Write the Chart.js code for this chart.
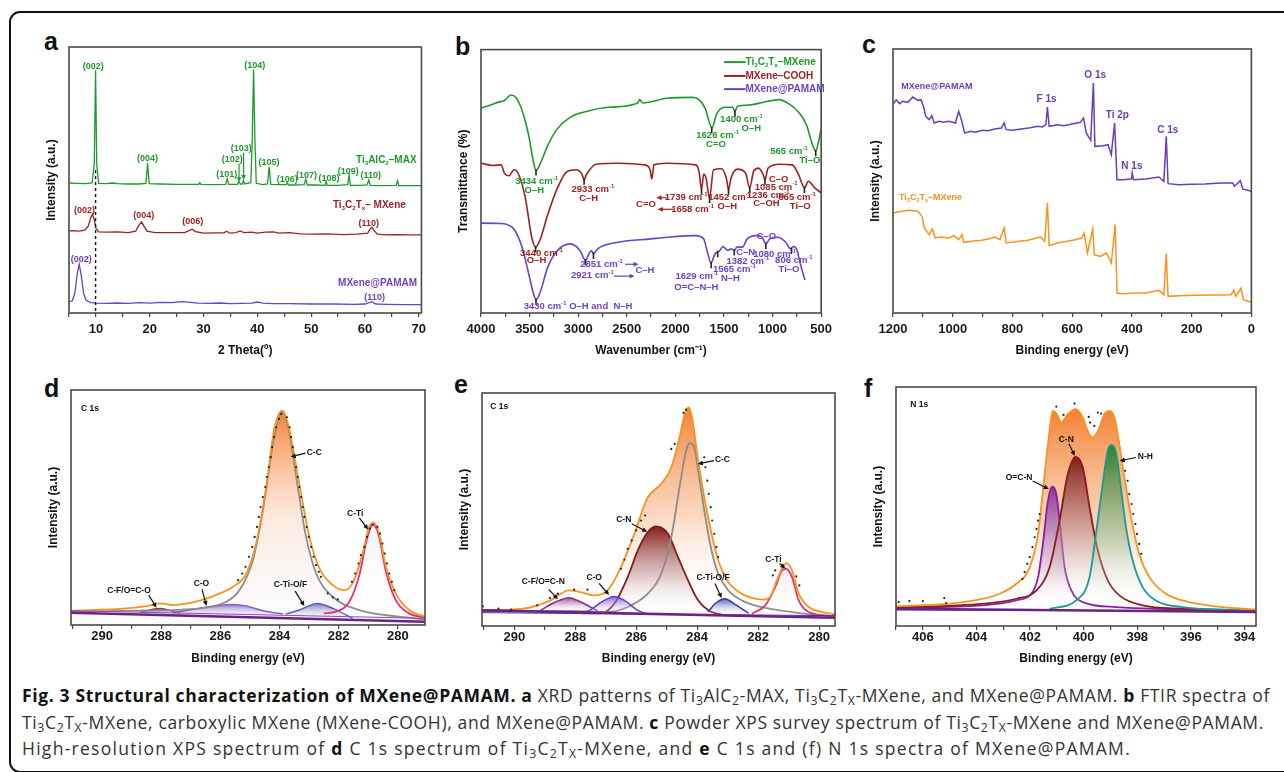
<!DOCTYPE html>
<html>
<head>
<meta charset="utf-8">
<script src="https://cdn.jsdelivr.net/npm/chart.js@4.4.1/dist/chart.umd.min.js"></script>
<style>
body{margin:0;width:1284px;height:772px;background:#fff;position:relative;overflow:hidden;font-family:"Liberation Sans",Arial,sans-serif}
.frame{position:absolute;left:9px;top:11px;width:1320px;height:762px;border:2.5px solid #111;border-radius:11px;box-sizing:border-box}
canvas{position:absolute}
.tag{position:absolute;font:bold 25px/25px "Liberation Sans",Arial,sans-serif;color:#111}
.cap{position:absolute;left:22px;top:682px;font-family:"Open Sans",sans-serif;font-size:17.5px;line-height:26.5px;color:#333;white-space:nowrap}
.cap div{width:max-content}
.cap b{color:#111}
.cap sub{font-size:70%;vertical-align:-3px;line-height:0}
</style>
</head>
<body>
<div class="frame"></div>
<div class="tag" style="left:44px;top:29px">a</div>
<div class="tag" style="left:455px;top:34px">b</div>
<div class="tag" style="left:862px;top:32px">c</div>
<div class="tag" style="left:44px;top:376px">d</div>
<div class="tag" style="left:454px;top:372px">e</div>
<div class="tag" style="left:864px;top:376px">f</div>
<div class="cap">
<div><b>Fig. 3 Structural characterization of MXene@PAMAM.</b> <b>a</b> XRD patterns of Ti<sub>3</sub>AlC<sub>2</sub>-MAX, Ti<sub>3</sub>C<sub>2</sub>T<sub>X</sub>-MXene, and MXene@PAMAM. <b>b</b> FTIR spectra of</div>
<div>Ti<sub>3</sub>C<sub>2</sub>T<sub>X</sub>-MXene, carboxylic MXene (MXene-COOH), and MXene@PAMAM. <b>c</b> Powder XPS survey spectrum of Ti<sub>3</sub>C<sub>2</sub>T<sub>X</sub>-MXene and MXene@PAMAM.</div>
<div>High-resolution XPS spectrum of <b>d</b> C 1s spectrum of Ti<sub>3</sub>C<sub>2</sub>T<sub>X</sub>-MXene, and <b>e</b> C 1s and (f) N 1s spectra of MXene@PAMAM.</div>
</div>
<script>
// ---- a: XRD (2 theta, intensity a.u.) ----
const xrdMax = [[5,391],[6.5,390],[8,389],[9.3,391],[9.7,450],[9.94,730],[10.15,450],[10.5,390],[12,389],[13,391],[14,389],[16,388],[18,388],[19.3,390],[19.6,450],[19.9,389],[22,388],[25,387],[29.1,387],[29.3,392],[29.5,387],[32,386],[34.1,387],[34.4,403],[34.7,387],[36.3,387],[36.6,395],[36.9,387],[37.2,388],[37.4,398],[37.6,388],[38.8,392],[39.05,520],[39.3,732],[39.55,520],[39.8,390],[41,386],[41.9,388],[42.2,440],[42.5,387],[44,386],[45.4,386],[45.6,392],[45.8,385],[47,385],[48.7,386],[49.0,402],[49.3,385],[51,385],[52.6,384],[52.8,395],[53.0,384],[55,384],[56.8,386],[57.05,415],[57.3,384],[59,384],[60.4,385],[60.7,400],[61.0,384],[63,383],[65.8,384],[66.05,398],[66.3,383],[68,383],[70.5,383]];
const xrdMx = [[5,247],[6,248],[7,246],[8,250],[8.6,262],[9.0,285],[9.35,297],[9.7,280],[10.0,255],[10.5,244],[12,243],[14,244],[16,242],[17.4,246],[17.9,262],[18.5,274],[18.9,262],[19.5,246],[21,242],[24,242],[26.5,242],[27.3,248],[27.9,252],[28.5,245],[30,240],[32,241],[33.8,241],[34.3,246],[34.9,240],[36,242],[36.8,247],[37.5,242],[39,243],[40,240],[41.5,243],[43,244],[44,240],[46,242],[48,238],[50,237],[53,238],[56,236],[58.5,237],[60.5,240],[61.0,253],[61.3,258],[61.7,248],[62.3,237],[64,235],[66,236],[68,235],[70.5,235]];
const xrdPam = [[5,34],[5.6,36],[6.1,60],[6.5,115],[6.9,147],[7.3,110],[7.7,60],[8.2,38],[9,31],[10,30],[12,29],[14,30],[16,29],[18,31],[20,30],[22,32],[24,31],[26,34],[27,33],[29,30],[31,29],[33,30],[35,28],[37,29],[39,30],[40,33],[41,30],[43,28],[46,28],[50,27],[54,27],[58,26],[60,27],[61.3,34],[62,27],[64,26],[67,25],[70.5,25]];
const xrdGuide = [[9.94,430],[9.94,0]];

// ---- b: FTIR (wavenumber, transmittance a.u.) ----
const ftirMx = [[4000,622],[3874,635],[3800,642],[3760,645],[3742,650],[3692,662],[3643,655],[3577,615],[3510,540],[3461,460],[3434,433],[3395,450],[3312,510],[3213,560],[3080,595],[2915,612],[2683,625],[2386,638],[2369,648],[2336,638],[2088,652],[1823,655],[1757,648],[1691,620],[1625,562],[1575,605],[1493,625],[1410,625],[1387,612],[1360,628],[1228,632],[1096,640],[930,648],[831,635],[732,610],[649,570],[599,520],[556,492],[527,520],[500,560]];
const ftirCooh = [[4000,455],[3874,448],[3793,450],[3760,425],[3710,417],[3661,435],[3611,420],[3544,350],[3478,230],[3438,200],[3395,220],[3312,300],[3213,380],[3114,430],[3015,435],[2959,420],[2939,405],[2916,420],[2816,452],[2585,455],[2320,450],[2260,435],[2243,407],[2220,450],[2088,455],[1791,450],[1757,430],[1731,375],[1708,422],[1685,410],[1648,350],[1608,435],[1526,438],[1476,410],[1453,375],[1427,410],[1360,437],[1278,425],[1235,380],[1195,430],[1145,440],[1096,420],[1079,405],[1046,440],[930,452],[798,450],[732,420],[672,380],[632,400],[566,380],[500,365]];
const ftirPam = [[4000,273],[3810,272],[3677,260],[3577,200],[3510,120],[3461,60],[3434,40],[3395,60],[3312,140],[3213,190],[3080,210],[2982,190],[2926,160],[2889,180],[2863,190],[2843,180],[2800,195],[2585,215],[2254,225],[2088,230],[1791,235],[1708,225],[1675,190],[1632,152],[1592,180],[1565,185],[1542,190],[1510,202],[1460,190],[1427,195],[1394,190],[1367,200],[1311,200],[1261,225],[1179,235],[1112,232],[1069,210],[1030,225],[947,230],[864,215],[815,195],[781,202],[748,190],[715,150],[666,100]];
const ftirMarks = [[3434,427],[1626,556],[1387,606],[556,486],[3438,194],[2939,399],[1731,369],[1648,344],[1453,369],[1235,374],[1079,399],[672,374],[3434,34],[2926,154],[2843,174],[1632,146],[1565,179],[1394,184],[1069,204],[806,189]];

// ---- c: XPS survey (binding energy, intensity a.u.) ----
const xpsPam = [[1200,625],[1189,640],[1178,628],[1167,635],[1150,632],[1134,648],[1117,638],[1106,640],[1098,620],[1090,590],[1079,580],[1070,592],[1062,570],[1046,575],[1030,572],[1013,575],[991,570],[980,605],[971,580],[960,540],[940,545],[925,542],[900,548],[881,547],[860,552],[837,555],[828,570],[821,550],[800,548],[771,552],[740,556],[716,560],[700,558],[688,565],[683,618],[677,560],[650,565],[628,562],[600,567],[573,572],[562,585],[553,540],[538,518],[529,690],[524,500],[496,502],[480,505],[469,475],[458,570],[450,400],[430,400],[402,402],[399,420],[395,400],[353,402],[310,408],[293,395],[285,530],[279,388],[244,385],[200,386],[156,387],[101,390],[62,390],[57,380],[37,397],[29,372],[0,365]];
const xpsMx = [[1200,300],[1170,305],[1145,308],[1117,305],[1103,290],[1095,255],[1079,235],[1068,252],[1059,225],[1040,228],[1013,225],[996,232],[980,220],[969,235],[963,212],[930,216],[903,218],[880,222],[859,228],[842,220],[828,255],[821,210],[790,214],[749,218],[707,228],[692,215],[683,330],[677,202],[650,210],[617,215],[590,220],[568,225],[560,240],[549,180],[531,252],[526,175],[507,170],[485,180],[469,150],[461,220],[456,265],[450,60],[430,58],[390,60],[353,60],[310,68],[293,55],[285,178],[279,50],[240,52],[189,53],[120,54],[68,55],[59,68],[52,50],[35,75],[27,40],[0,32]];

// ---- d: C 1s of Ti3C2Tx-MXene ----
const dBase = [[291.05,37],[279.08,10]];
const dBase2 = [[291.05,43],[279.08,20]];
const dCC = [[291.05,40],[288.9,43],[286.7,50],[285.8,70],[285.35,105],[284.9,195],[284.56,345],[284.22,545],[284.05,615],[283.91,643],[283.78,620],[283.66,575],[283.38,415],[283.1,265],[282.76,155],[282.2,85],[281.3,45],[279.96,25],[279.08,17]];
const dEnv = [[291.05,43],[289.17,50],[288.49,57],[288.04,65],[287.6,60],[286.7,73],[286.02,95],[285.57,115],[285.12,155],[284.79,245],[284.45,415],[284.17,595],[284.02,635],[283.91,645],[283.78,625],[283.66,585],[283.33,425],[282.99,265],[282.65,170],[282.2,120],[281.81,105],[281.53,125],[281.19,215],[280.97,295],[280.82,308],[280.63,275],[280.4,175],[280.07,95],[279.62,45],[279.08,25]];
const dCTi = [[282.5,35],[282.09,40],[281.64,70],[281.3,150],[281.08,245],[280.93,292],[280.85,303],[280.72,290],[280.63,265],[280.4,160],[280.07,75],[279.62,35],[279.08,22]];
const dCO = [[287.6,37],[286.7,50],[286.13,58],[285.57,62],[285.12,57],[284.56,43],[283.89,33]];
const dCF = [[288.72,38],[288.04,50],[287.37,35]];
const dCTiO = [[283.78,33],[283.33,45],[282.71,65],[282.2,50],[281.53,20]];
const dDots = [[285.4,135],[285.26,155],[285.15,175],[285.03,205],[284.92,235],[284.84,265],[284.76,295],[284.7,325],[284.64,355],[284.56,385],[284.48,415],[284.43,445],[284.36,475],[284.3,505],[284.25,535],[284.18,565],[284.11,595],[284.02,620],[283.94,635],[283.75,625],[283.66,595],[283.61,565],[283.55,535],[283.49,505],[283.44,475],[283.38,445],[283.33,415],[283.27,385],[283.21,355],[283.16,325],[283.08,295],[283.01,265],[282.93,235],[282.85,205],[282.76,180],[282.67,160],[282.6,145],[282.37,95],[282.2,83],[282.03,77],[281.55,130],[281.44,155],[281.33,185],[281.25,210],[281.13,235],[281.04,265],[280.94,290],[280.85,302],[280.69,295],[280.6,275],[280.52,245],[280.44,215],[280.37,185],[280.29,155],[280.2,130],[280.12,105]];

// ---- e: C 1s of MXene@PAMAM ----
const eBase = [[291.06,47],[279.48,25]];
const eBase2 = [[291.06,40],[279.48,31]];
const eEnv = [[291.06,47],[289.7,52],[288.81,77],[288.21,107],[287.82,102],[287.38,92],[286.94,107],[286.5,177],[286.06,277],[285.62,387],[285.18,427],[284.85,477],[284.58,567],[284.41,637],[284.28,657],[284.17,627],[283.97,497],[283.75,377],[283.53,277],[283.31,197],[282.98,132],[282.54,97],[282.1,82],[281.83,79],[281.61,87],[281.39,137],[281.22,172],[281.06,189],[280.89,167],[280.67,97],[280.34,57],[279.9,42],[279.48,35]];
const eCC = [[291.06,45],[288,45],[286.94,42],[286.28,57],[285.62,97],[285.18,157],[284.85,267],[284.58,417],[284.36,527],[284.25,549],[284.1,537],[283.97,467],[283.75,337],[283.53,227],[283.31,157],[282.98,107],[282.54,77],[281.99,59],[280.89,42],[279.48,29]];
const eCN = [[287.8,38],[287.16,39],[286.72,67],[286.28,147],[285.95,227],[285.62,282],[285.35,299],[284.96,277],[284.63,207],[284.3,137],[283.97,77],[283.64,47],[283.09,32]];
const eCO = [[287.7,40],[287.49,49],[287.05,77],[286.72,89],[286.39,77],[285.95,47],[285.62,35]];
const eCF = [[289.14,47],[288.65,72],[288.21,85],[287.82,72],[287.27,45]];
const eCTiO = [[283.64,42],[283.42,67],[283.09,82],[282.76,65],[282.32,39]];
const eCTi = [[282.21,37],[281.77,62],[281.44,117],[281.22,167],[281.09,172],[280.89,147],[280.67,77],[280.34,42],[279.48,29]];
const eDots = [[291.03,59],[290.52,52],[290.1,49],[289.25,62],[288.83,84],[288.57,97],[288.04,109],[287.6,109],[286.5,172],[286.39,199],[286.28,232],[286.15,257],[286.0,287],[285.84,317],[285.71,332],[284.85,532],[284.74,547],[284.45,640],[284.36,650],[283.77,507],[283.73,477],[283.67,437],[283.62,397],[283.56,357],[283.51,317],[283.44,277],[283.37,237],[283.31,207],[281.52,152],[281.44,167],[280.75,149],[280.65,122]];

// ---- f: N 1s of MXene@PAMAM ----
const fBase = [[407,52],[393.57,42]];
const fBase2 = [[407,48],[393.57,45]];
const fEnv = [[407,59],[404.98,67],[403.75,82],[403.13,97],[402.51,127],[402.01,177],[401.7,277],[401.52,407],[401.33,547],[401.15,647],[400.96,632],[400.84,612],[400.59,637],[400.3,652],[400.03,627],[399.85,587],[399.66,567],[399.41,597],[399.23,637],[399.04,647],[398.85,627],[398.67,547],[398.48,447],[398.23,327],[397.93,217],[397.55,147],[396.93,97],[396.32,77],[395.08,59],[393.57,49]];
const fOCN = [[407,55],[403.75,62],[402.51,77],[401.95,97],[401.7,147],[401.52,247],[401.33,377],[401.18,419],[401.02,397],[400.87,297],[400.71,177],[400.46,107],[400.03,72],[398.79,57],[393.57,47]];
const fCN = [[407,55],[403.75,67],[402.51,82],[401.76,107],[401.27,177],[400.9,317],[400.59,457],[400.3,509],[400.03,477],[399.78,357],[399.47,227],[399.1,137],[398.67,92],[397.8,62],[396.32,52],[393.57,45]];
const fNH = [[401.27,52],[400.28,77],[399.78,147],[399.54,277],[399.29,427],[399.1,527],[398.98,544],[398.79,522],[398.61,417],[398.42,297],[398.17,197],[397.8,117],[397.31,77],[396.32,57],[393.57,47]];
const fDots = [[406.9,72],[406.5,75],[406,75],[405.2,84],[405.13,69],[402.28,142],[402.2,162],[402.1,187],[402.01,207],[401.91,237],[401.83,267],[401.76,292],[401.7,317],[401.64,337],[401.02,660],[400.75,635],[400.34,669],[399.81,629],[399.76,612],[399.6,602],[399.47,642],[399.35,639],[398.54,497],[398.45,467],[398.36,437],[398.3,397],[398.21,367],[398.15,337],[398.07,307],[398.01,277],[397.93,247],[397.85,217]];

const G = '#1d9a2c', R = '#9c2222', P = '#6b42c8';
const ORANGE = '#f7931e', GRAY = '#8c8c8c', PINK = '#e62f7e', BLUE = '#3838a8', VIO = '#6a3cc0', MAG = '#8e2a8a', DRED = '#8b1a1a', TEAL = '#1a9a94', BASE = '#6b2283';
const FAM = '"Liberation Sans", Arial, sans-serif';
Chart.defaults.font.family = FAM;

// caption lines are stretched to the widths they have in the figure
const capWidths = [1248, 1242, 1109];
document.querySelectorAll('.cap > div').forEach((d, i) => {
    const w = d.getBoundingClientRect().width;
    const n = d.textContent.replace(/\s+/g, ' ').trim().length;
    d.style.letterSpacing = ((capWidths[i] - w) / n).toFixed(3) + 'px';
});

const NOTES = {};

function pts(a) { return a.map(p => ({x: p[0], y: p[1]})); }
function curve(a, color, width, more) {
    return Object.assign({data: pts(a), showLine: true, borderColor: color, borderWidth: width, pointRadius: 0, fill: false, tension: 0}, more || {});
}
function smooth(a, color, width, more) {
    return curve(a, color, width, Object.assign({cubicInterpolationMode: 'monotone'}, more || {}));
}
function dots(a) {
    return {data: pts(a), showLine: false, pointRadius: 1.1, pointBackgroundColor: '#222', pointBorderWidth: 0};
}
// vertical gradient between data levels
function fade(stops) {
    return function (context) {
        const chart = context.chart;
        if (!chart.chartArea) return 'rgba(0,0,0,0)';
        const y = chart.scales.y;
        const g = chart.ctx.createLinearGradient(0, y.getPixelForValue(stops[0][0]), 0, y.getPixelForValue(stops[stops.length - 1][0]));
        const span = stops[stops.length - 1][0] - stops[0][0];
        stops.forEach(s => g.addColorStop((s[0] - stops[0][0]) / span, s[1]));
        return g;
    };
}

function richText(c, s, x, y, font, color, align) {
    const m = /^(bold )?([\d.]+)px/.exec(font);
    const bold = m[1] || '', fs = parseFloat(m[2]);
    const segs = [];
    for (let i = 0; i < s.length; i++) {
        const ch = s[i];
        if ((ch === '_' || ch === '^') && i + 1 < s.length) { segs.push({t: s[i + 1], k: ch}); i++; }
        else if (segs.length && segs[segs.length - 1].k === 'n') segs[segs.length - 1].t += ch;
        else segs.push({t: ch, k: 'n'});
    }
    let w = 0;
    segs.forEach(sg => {
        sg.f = bold + (sg.k === 'n' ? fs : fs * 0.62) + 'px ' + FAM;
        c.font = sg.f;
        sg.w = c.measureText(sg.t).width;
        w += sg.w;
    });
    let cx = align === 'left' ? x : align === 'right' ? x - w : x - w / 2;
    c.fillStyle = color; c.textBaseline = 'middle'; c.textAlign = 'left';
    segs.forEach(sg => {
        const dy = sg.k === '_' ? fs * 0.3 : sg.k === '^' ? -fs * 0.32 : 0;
        c.font = sg.f;
        c.fillText(sg.t, cx, y + dy);
        cx += sg.w;
    });
}

function arrow(c, x1, y1, x2, y2, color) {
    const ang = Math.atan2(y2 - y1, x2 - x1), L = 5, W = 2.4;
    c.strokeStyle = color; c.fillStyle = color; c.lineWidth = 1.2;
    c.beginPath(); c.moveTo(x1, y1); c.lineTo(x2 - L * 0.8 * Math.cos(ang), y2 - L * 0.8 * Math.sin(ang)); c.stroke();
    c.beginPath();
    c.moveTo(x2, y2);
    c.lineTo(x2 - L * Math.cos(ang) + W * Math.sin(ang), y2 - L * Math.sin(ang) - W * Math.cos(ang));
    c.lineTo(x2 - L * Math.cos(ang) - W * Math.sin(ang), y2 - L * Math.sin(ang) + W * Math.cos(ang));
    c.closePath(); c.fill();
}

Chart.register({
    id: 'notes',
    afterDatasetsDraw(chart) {
        const items = NOTES[chart.canvas.id] || [];
        const c = chart.ctx, xs = chart.scales.x, ys = chart.scales.y;
        const X = v => xs.getPixelForValue(v), Y = v => ys.getPixelForValue(v);
        c.save();
        items.forEach(n => {
            if (n[0] === 't') richText(c, n[3], X(n[1]), Y(n[2]), n[5] || 'bold 9px', n[4], n[6] || 'center');
            else if (n[0] === 'a') arrow(c, X(n[1]), Y(n[2]), X(n[3]), Y(n[4]), n[5] || '#111');
            else if (n[0] === 'l') {
                c.strokeStyle = n[5]; c.lineWidth = n[6] || 1.6;
                c.beginPath(); c.moveTo(X(n[1]), Y(n[2])); c.lineTo(X(n[3]), Y(n[4])); c.stroke();
            }
        });
        c.restore();
    },
    afterDraw(chart) {
        const a = chart.chartArea, c = chart.ctx;
        c.save();
        c.strokeStyle = '#4a4a4a'; c.lineWidth = 1.6;
        c.strokeRect(a.left, a.top, a.right - a.left, a.bottom - a.top);
        c.restore();
    }
});

function panel(id, rect, xH, xs, yMax, yTitle, xTitle, datasets, notes) {
    const [l, t, r, b] = rect;
    const cv = document.createElement('canvas');
    cv.id = id;
    const left = l - 25, top = t - 3;
    cv.width = r + 3 - left; cv.height = b + xH - top;
    cv.style.left = left + 'px'; cv.style.top = top + 'px';
    document.body.appendChild(cv);
    NOTES[id] = notes;
    const major = xs.major;
    new Chart(cv, {
        type: 'scatter',
        data: {datasets: datasets},
        options: {
            responsive: false, animation: false, events: [],
            layout: {padding: {left: 0, top: 3, right: 3, bottom: 0}},
            plugins: {legend: {display: false}, tooltip: {enabled: false}},
            scales: {
                x: {
                    type: 'linear', position: 'bottom', min: xs.min, max: xs.max, reverse: !!xs.reverse,
                    afterFit(s) { s.height = xH; },
                    grid: {drawOnChartArea: false, drawTicks: true, tickLength: 4, color: '#444', lineWidth: 1.2},
                    border: {display: false},
                    ticks: {
                        stepSize: xs.step, includeBounds: false, autoSkip: false, maxRotation: 0, padding: xs.pad,
                        font: {size: 13, weight: 'bold'}, color: '#1a1a1a',
                        callback: v => Math.abs(v / major - Math.round(v / major)) < 1e-6 ? String(Math.round(v)) : ''
                    },
                    title: {display: true, text: xTitle, font: {size: 12, weight: 'bold'}, color: '#111', padding: 0}
                },
                y: {
                    min: 0, max: yMax,
                    afterFit(s) { s.width = 25; },
                    grid: {display: false}, border: {display: false}, ticks: {display: false},
                    title: {display: true, text: yTitle, font: {size: 12, weight: 'bold'}, color: '#111', padding: 0}
                }
            }
        }
    });
}

// ---- a ----
panel('pa', [69, 47, 428, 313], 45, {min: 5, max: 70.5, step: 5, major: 10, pad: 5}, 800, 'Intensity (a.u.)', '2 Theta(º)', [
    curve(xrdGuide, '#111', 1.4, {borderDash: [3, 3]}),
    curve(xrdMax, G, 1.3),
    curve(xrdMx, R, 1.3),
    curve(xrdPam, P, 1.3)
], [
    ['t', 9.5, 742, '(002)', G], ['t', 19.6, 465, '(004)', G], ['t', 34.3, 417, '(101)', G], ['t', 35.35, 462, '(102)', G],
    ['t', 37.0, 495, '(103)', G], ['t', 39.5, 745, '(104)', G], ['t', 42.15, 452, '(105)', G], ['t', 45.55, 400, '(106)', G],
    ['t', 49.15, 414, '(107)', G], ['t', 53.3, 405, '(108)', G], ['t', 56.9, 427, '(109)', G], ['t', 61.1, 414, '(110)', G],
    ['t', 69.6, 460, 'Ti_3AlC_2–MAX', G, 'bold 10px', 'right'],
    ['a', 36.6, 450, 36.6, 393, G], ['a', 37.45, 482, 37.45, 400, G],
    ['t', 7.87, 307, '(002)', R], ['t', 18.9, 292, '(004)', R], ['t', 28.0, 274, '(006)', R], ['t', 60.7, 270, '(110)', R],
    ['t', 67.6, 323, 'Ti_3C_2T_x– MXene', R, 'bold 10px', 'right'],
    ['t', 7.26, 160, '(002)', P], ['t', 69.7, 90, 'MXene@PAMAM', P, 'bold 10px', 'right'], ['t', 61.8, 48, '(110)', P]
]);

// ---- b ----
const ftirOpt = {tension: 0.3, cubicInterpolationMode: 'monotone'};
const F = 'bold 9.5px';
panel('pb', [481, 47, 834, 313], 45, {min: 500, max: 4000, step: 250, major: 500, pad: 5, reverse: true}, 800, 'Transmittance (%)', 'Wavenumber (cm⁻¹)', [
    {data: pts(ftirMarks), showLine: false, pointStyle: 'line', pointRadius: 3.2, pointRotation: 90, pointBorderColor: '#222', pointBorderWidth: 1.6},
    curve(ftirMx, G, 1.6, ftirOpt),
    curve(ftirCooh, R, 1.6, ftirOpt),
    curve(ftirPam, P, 1.6, ftirOpt)
], [
    ['l', 1499, 762, 1278, 762, G, 2], ['t', 1278, 762, 'Ti_3C_2T_x–MXene', G, 'bold 10px', 'left'],
    ['l', 1499, 720, 1278, 720, R, 2], ['t', 1278, 720, 'MXene–COOH', R, 'bold 10px', 'left'],
    ['l', 1499, 680, 1278, 680, P, 2], ['t', 1278, 680, 'MXene@PAMAM', P, 'bold 10px', 'left'],
    ['t', 1320, 587, '1400 cm^-^1', G, F], ['t', 1218, 562, 'O–H', G, F], ['t', 1565, 538, '1626 cm^-^1', G, F], ['t', 1582, 512, 'C=O', G, F],
    ['t', 831, 490, '565 cm^-^1', G, F], ['t', 616, 464, 'Ti–O', G, F], ['t', 3428, 400, '3434 cm^-^1', G, F], ['t', 3451, 373, 'O–H', G, F],
    ['t', 2849, 375, '2933 cm^-^1', R, F], ['t', 2892, 347, 'C–H', R, F], ['t', 2303, 331, 'C=O', R, F],
    ['t', 1890, 350, '1739 cm^-^1', R, F], ['a', 2088, 350, 2194, 350, R], ['t', 1823, 315, '1658 cm^-^1', R, F], ['a', 2022, 315, 2181, 315, R],
    ['t', 1443, 350, '1452 cm^-^1', R, F], ['t', 1466, 325, 'O–H', R, F], ['t', 937, 406, 'C–O', R, F], ['t', 963, 383, '1085 cm^-^1', R, F],
    ['t', 1046, 358, '1236 cm^-^1', R, F], ['t', 1063, 334, 'C–OH', R, F], ['t', 748, 350, '665 cm^-^1', R, F], ['t', 715, 324, 'Ti–O', R, F],
    ['t', 3378, 182, '3440 cm^-^1', R, F], ['t', 3428, 160, 'O–H', R, F],
    ['t', 2760, 148, '2851 cm^-^1', P, F], ['a', 2518, 148, 2379, 148, P], ['t', 2855, 114, '2921 cm^-^1', P, F], ['a', 2634, 112, 2419, 112, P],
    ['t', 2313, 128, 'C–H', P, F], ['t', 1780, 112, '1629 cm^-^1', P, F], ['t', 1784, 79, 'O=C–N–H', P, F],
    ['t', 1393, 131, '1565 cm^-^1', P, F], ['t', 1433, 106, 'N–H', P, F], ['t', 1277, 184, 'C–N', P, F], ['t', 1254, 158, '1382 cm^-^1', P, F],
    ['t', 1063, 232, 'C–O', P, F], ['t', 980, 178, '1080 cm^-^1', P, F], ['t', 781, 160, '806 cm^-^1', P, F], ['t', 831, 132, 'Ti–O', P, F],
    ['t', 3560, 20, '3430 cm^-^1 O–H and  N–H', P, F, 'left']
]);

// ---- c ----
const CP = '#6a3db8';
panel('pc', [893, 49, 1257, 313], 45, {min: 0, max: 1200, step: 100, major: 200, pad: 5, reverse: true}, 792, 'Intensity (a.u.)', 'Binding energy (eV)', [
    curve(xpsPam, CP, 1.5),
    curve(xpsMx, ORANGE, 1.5)
], [
    ['t', 1172, 680, 'MXene@PAMAM', CP, 'bold 9px', 'left'], ['t', 686, 640, 'F 1s', CP, 'bold 10px'], ['t', 523, 712, 'O 1s', CP, 'bold 10px'],
    ['t', 449, 592, 'Ti 2p', CP, 'bold 10px'], ['t', 400, 439, 'N 1s', CP, 'bold 10px'], ['t', 280, 547, 'C 1s', CP, 'bold 10px'],
    ['t', 1180, 347, 'Ti_3C_2T_x–MXene', ORANGE, 'bold 9px', 'left']
]);

// ---- d ----
const K = '#111', S = 'bold 8.5px';
panel('pd', [71, 389, 426, 625], 41, {min: 279.08, max: 291.05, step: 1, major: 2, pad: 0, reverse: true}, 707, 'Intensity (a.u.)', 'Binding energy (eV)', [
    dots(dDots),
    curve(dBase, BASE, 2.6),
    curve(dBase2, '#8a4bb0', 1),
    smooth(dEnv, ORANGE, 1.8),
    smooth(dCTi, PINK, 1.8, {fill: 'origin', backgroundColor: fade([[303, 'rgba(215,215,215,0.35)'], [20, 'rgba(255,255,255,0)']])}),
    smooth(dCC, GRAY, 1.8, {fill: 'origin', backgroundColor: fade([[643, 'rgba(243,122,40,0.95)'], [330, 'rgba(250,215,190,0.55)'], [60, 'rgba(235,235,235,0.2)']])}),
    smooth(dCTiO, BLUE, 1.5, {fill: 'origin', backgroundColor: fade([[65, 'rgba(60,60,170,0.85)'], [15, 'rgba(255,255,255,0)']])}),
    smooth(dCO, VIO, 1.5, {fill: 'origin', backgroundColor: fade([[62, 'rgba(110,60,190,0.85)'], [20, 'rgba(255,255,255,0)']])}),
    smooth(dCF, MAG, 1.5, {fill: 'origin', backgroundColor: fade([[50, 'rgba(140,40,120,0.85)'], [25, 'rgba(255,255,255,0)']])})
], [
    ['t', 290.71, 650, 'C 1s', K, S, 'left'],
    ['t', 283.08, 518, 'C-C', K, S, 'left'], ['a', 283.12, 517, 283.62, 506, K],
    ['t', 281.44, 334, 'C-Ti', K, S], ['a', 281.3, 322, 281.0, 287, K],
    ['t', 289.09, 103, 'C-F/O=C-O', K, S], ['a', 288.42, 90, 288.16, 52, K],
    ['t', 286.64, 123, 'C-O', K, S], ['a', 286.62, 108, 286.47, 57, K],
    ['t', 283.63, 120, 'C-Ti-O/F', K, S], ['a', 283.47, 102, 283.16, 57, K]
]);

// ---- e ----
panel('pe', [482, 392, 836, 626], 40, {min: 279.48, max: 291.06, step: 1, major: 2, pad: 0, reverse: true}, 700, 'Intensity (a.u.)', 'Binding energy (eV)', [
    dots(eDots),
    curve(eBase, BASE, 2.6),
    curve(eBase2, '#3a3aa8', 1),
    smooth(eEnv, ORANGE, 1.8),
    smooth(eCTi, PINK, 1.8, {fill: 'origin', backgroundColor: fade([[172, 'rgba(215,215,215,0.35)'], [25, 'rgba(255,255,255,0)']])}),
    smooth(eCTiO, BLUE, 1.5, {fill: 'origin', backgroundColor: fade([[82, 'rgba(60,60,170,0.85)'], [30, 'rgba(255,255,255,0)']])}),
    smooth(eCO, VIO, 1.5, {fill: 'origin', backgroundColor: fade([[89, 'rgba(110,60,200,0.85)'], [35, 'rgba(255,255,255,0)']])}),
    smooth(eCF, MAG, 1.5, {fill: 'origin', backgroundColor: fade([[85, 'rgba(140,40,120,0.85)'], [40, 'rgba(255,255,255,0)']])}),
    smooth(eCC, GRAY, 1.8),
    smooth(eCN, DRED, 1.8, {fill: 'origin', backgroundColor: fade([[299, 'rgba(125,20,20,0.95)'], [150, 'rgba(190,150,150,0.5)'], [40, 'rgba(255,255,255,0)']])}),
    smooth(eEnv, 'rgba(0,0,0,0)', 0, {fill: 'origin', backgroundColor: fade([[657, 'rgba(243,122,40,0.95)'], [330, 'rgba(248,190,150,0.6)'], [60, 'rgba(255,255,255,0)']])})
], [
    ['t', 290.79, 659, 'C 1s', K, S, 'left'],
    ['t', 283.42, 500, 'C-C', K, S, 'left'], ['a', 283.45, 497, 283.98, 487, K],
    ['t', 286.41, 319, 'C-N', K, S], ['a', 286.15, 307, 285.64, 283, K],
    ['t', 281.5, 200, 'C-Ti', K, S], ['a', 281.3, 188, 281.11, 173, K],
    ['t', 289.05, 132, 'C-F/O=C-N', K, S], ['a', 288.87, 110, 288.57, 80, K],
    ['t', 287.38, 145, 'C-O', K, S], ['a', 287.22, 128, 286.89, 93, K],
    ['t', 283.48, 145, 'C-Ti-O/F', K, S], ['a', 283.42, 128, 283.2, 84, K]
]);

// ---- f ----
panel('pf', [896, 386, 1257, 626], 40, {min: 393.57, max: 407, step: 1, major: 2, pad: 0, reverse: true}, 719, 'Intensity (a.u.)', 'Binding energy (eV)', [
    dots(fDots),
    curve(fBase, BASE, 2.6),
    curve(fBase2, '#3a3aa8', 1),
    smooth(fEnv, ORANGE, 1.8),
    smooth(fNH, TEAL, 1.8, {fill: 'origin', backgroundColor: fade([[544, 'rgba(40,125,40,0.95)'], [250, 'rgba(150,190,150,0.5)'], [60, 'rgba(255,255,255,0)']])}),
    smooth(fCN, DRED, 1.8, {fill: 'origin', backgroundColor: fade([[509, 'rgba(125,20,20,0.95)'], [230, 'rgba(200,160,160,0.5)'], [60, 'rgba(255,255,255,0)']])}),
    smooth(fOCN, '#8a1fa0', 1.8, {fill: 'origin', backgroundColor: fade([[419, 'rgba(130,40,150,0.9)'], [180, 'rgba(200,170,210,0.5)'], [60, 'rgba(255,255,255,0)']])}),
    smooth(fEnv, 'rgba(0,0,0,0)', 0, {fill: 'origin', backgroundColor: fade([[652, 'rgba(243,122,40,0.95)'], [300, 'rgba(248,190,150,0.6)'], [60, 'rgba(255,255,255,0)']])})
], [
    ['t', 406.47, 667, 'N 1s', K, S, 'left'],
    ['t', 400.65, 562, 'C-N', K, S], ['a', 400.55, 548, 400.33, 512, K],
    ['t', 397.98, 510, 'N-H', K, S, 'left'], ['a', 398.05, 507, 398.65, 497, K],
    ['t', 402.41, 445, 'O=C-N', K, S], ['a', 401.9, 436, 401.3, 412, K]
]);
</script>
</body>
</html>
